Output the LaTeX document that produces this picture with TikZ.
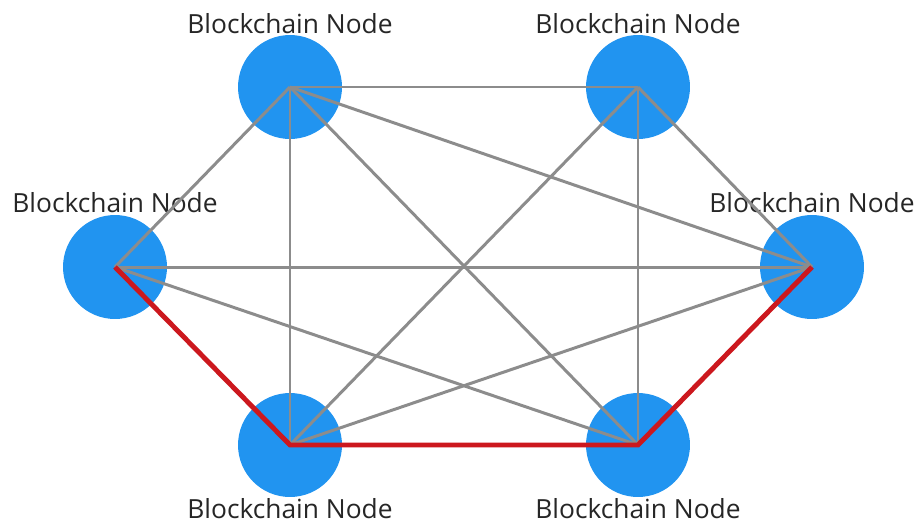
\documentclass[tikz,border=0pt]{standalone}
\usepackage{fontspec}
\setmainfont{Open Sans}
\definecolor{peerblue}{RGB}{33,148,240}
\definecolor{linkgray}{RGB}{140,140,140}
\definecolor{routered}{RGB}{204,24,30}
\tikzset{
	peer/.style={circle, fill=peerblue, minimum size=2.08cm, inner sep=0pt},
	tag/.style={anchor=base, inner sep=0pt, text=black!85, font=\fontsize{15}{18}\selectfont},
	link/.style={draw=linkgray, line width=1.7pt},
	route/.style={draw=routered, line width=2.8pt, line join=miter},
}
\begin{document}
\begin{tikzpicture}[x=0.02cm, y=-0.02cm]
	\useasboundingbox (0,0) rectangle (917,525);
	
	% the six peers
	\node[peer] (tl) at (290,87) {};
	\node[peer] (tr) at (638,87) {};
	\node[peer] (l) at (115,267) {};
	\node[peer] (r) at (812,267) {};
	\node[peer] (bl) at (290,445) {};
	\node[peer] (br) at (638,445) {};
	
	\node[tag] (tl-tag) at (290,33) {Blockchain Node};
	\node[tag] (tr-tag) at (638,33) {Blockchain Node};
	\node[tag] (l-tag) at (115,212) {Blockchain Node};
	\node[tag] (r-tag) at (812,212) {Blockchain Node};
	\node[tag] (bl-tag) at (290,518) {Blockchain Node};
	\node[tag] (br-tag) at (638,518) {Blockchain Node};
	
	% peer links
	\foreach \a/\b in {tl/tr, tl/l, tl/r, tl/bl, tl/br, tr/bl, tr/br, tr/r, l/r, l/br, bl/r}
		\draw[link] (\a.center) -- (\b.center);
	
	% chosen route
	\draw[route] (l.center) -- (bl.center) -- (br.center) -- (r.center);
\end{tikzpicture}
\end{document}
